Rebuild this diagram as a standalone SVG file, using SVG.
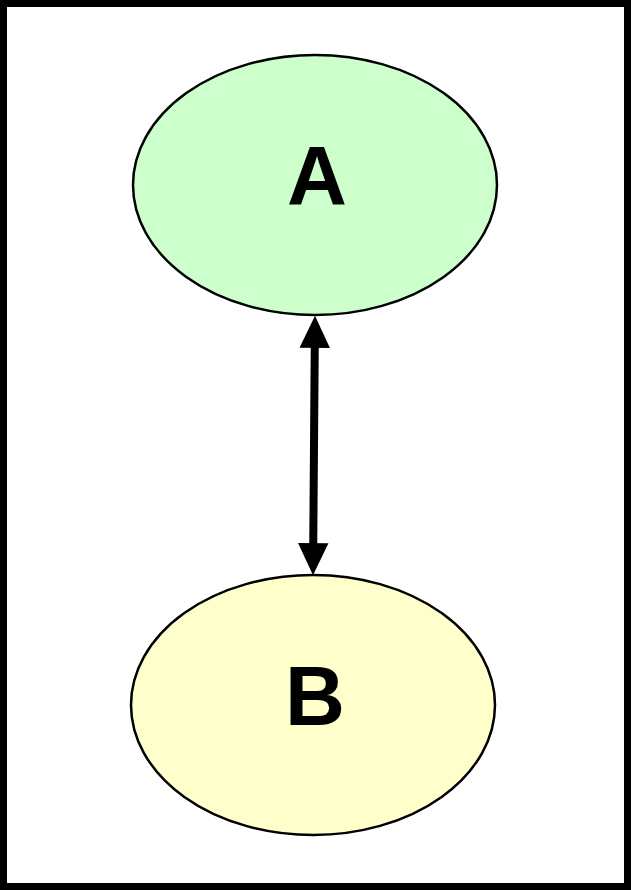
<svg xmlns="http://www.w3.org/2000/svg" width="631" height="890" viewBox="0 0 631 890">
<style>
.node ellipse{stroke:#000;stroke-width:2.5}
.lbl{font-family:"Liberation Sans",Arial,sans-serif;font-weight:bold;font-size:83px;text-anchor:middle;fill:#000}
</style>
<defs>
<marker id="ah" markerWidth="4" markerHeight="4" viewBox="0 0 4 4" refX="0.1" refY="2" orient="auto-start-reverse" markerUnits="strokeWidth">
<path d="M0,0.1 L4,2 L0,3.9 Z" fill="#000"/>
</marker>
</defs>
<rect x="3.5" y="3.5" width="624" height="883" fill="#fff" stroke="#000" stroke-width="7"/>
<g id="A" class="node">
<ellipse cx="315" cy="185" rx="182" ry="130" fill="#ccffcc"/>
<text class="lbl" x="317" y="205">A</text>
</g>
<g id="B" class="node">
<ellipse cx="313" cy="705" rx="182" ry="130" fill="#ffffcc"/>
<text class="lbl" x="315" y="725">B</text>
</g>
<g id="connectors">
<line x1="314.75" y1="347" x2="313.25" y2="544" stroke="#000" stroke-width="8" marker-start="url(#ah)" marker-end="url(#ah)"/>
</g>
</svg>
